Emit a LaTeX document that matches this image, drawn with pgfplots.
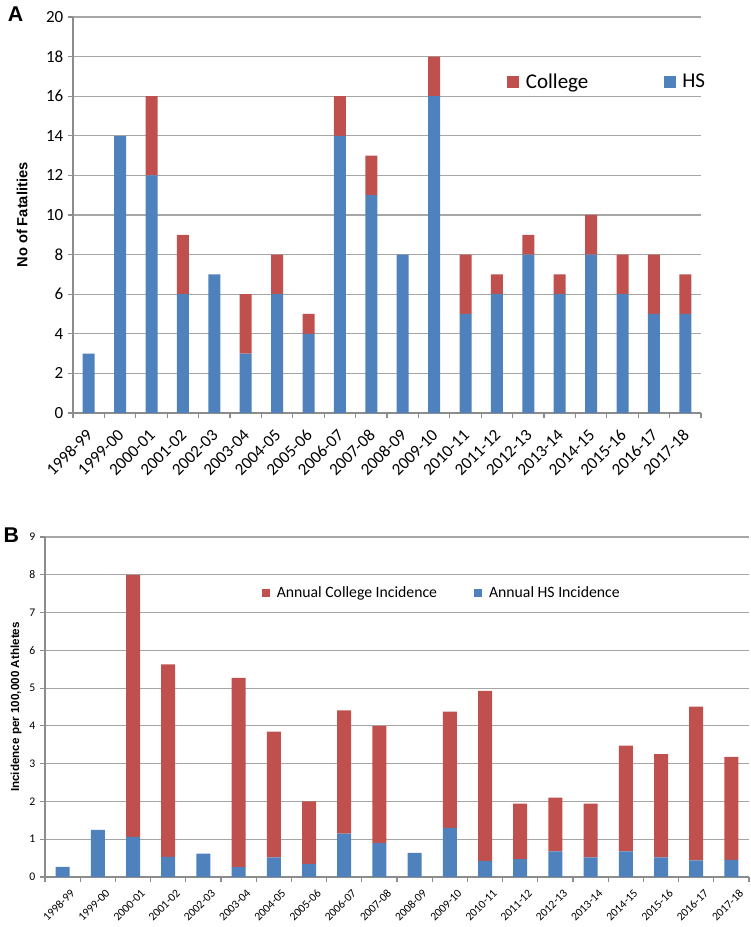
\documentclass[border=0pt]{standalone}
\usepackage{fontspec}
\setmainfont{Carlito}
\newfontfamily\arialfont{Liberation Sans}
\usepackage{pgfplots}
\pgfplotsset{compat=1.18}

\definecolor{hsblue}{HTML}{4F81BD}
\definecolor{colred}{HTML}{C0504D}
\definecolor{gridgray}{HTML}{A6A6A6}
\definecolor{axgray}{HTML}{8C8C8C}

\pgfplotsset{
  excelbars/.style={
    ybar stacked,
    scale only axis,
    axis lines=left,
    axis line style={-, axgray, line width=0.9pt},
    ymajorgrids,
    grid style={gridgray, line width=0.9pt},
    xmin=-0.5, xmax=19.5,
    xtick={0,...,19},
    xticklabels={1998-99,1999-00,2000-01,2001-02,2002-03,2003-04,2004-05,2005-06,2006-07,2007-08,
      2008-09,2009-10,2010-11,2011-12,2012-13,2013-14,2014-15,2015-16,2016-17,2017-18},
    minor xtick={-0.5,0.5,...,19.5},
    major x tick style={draw=none},
    minor x tick style={axgray, line width=0.9pt},
    y tick style={axgray, line width=0.9pt},
    tick align=outside,
    major tick length=3.75pt,
    minor tick length=3.75pt,
    xticklabel style={rotate=45, anchor=east},
    /pgf/number format/assume math mode=true,
    legend style={draw=none, fill=none, inner sep=0pt,
      /tikz/every odd column/.append style={column sep=3pt}},
    legend cell align=left,
    legend columns=2,
    reverse legend,
  },
  sqA/.style={legend image code/.code={\fill[##1] (0pt,-4.5pt) rectangle (9pt,4.5pt);}},
  sqB/.style={legend image code/.code={\fill[##1] (0pt,-3pt) rectangle (6pt,3pt);}},
}

\begin{document}
\begin{tikzpicture}
\useasboundingbox (0,0) rectangle (562.5pt,695.25pt);

% panel A: fatalities
\begin{axis}[excelbars,
  at={(54.75pt,385.5pt)}, anchor=south west,
  width=471pt, height=297pt,
  bar width=9pt,
  ymin=0, ymax=20, ytick={0,2,...,20},
  ticklabel style={font=\fontsize{12.75}{15}\selectfont},
  xticklabel style={xshift=-3.8pt, yshift=-8.1pt},
  ylabel={No of Fatalities},
  y label style={at={(axis description cs:-0.081,0.5)}, anchor=center,
    font=\arialfont\bfseries\fontsize{11}{13}\selectfont},
  legend style={at={(0.691,0.836)}, anchor=west,
    font=\fontsize{15.75}{18}\selectfont,
    /tikz/every even column/.append style={column sep=54.5pt}},
]
\addplot[fill=hsblue, draw=none, sqA] coordinates {
(0,3) (1,14) (2,12) (3,6) (4,7) (5,3) (6,6) (7,4) (8,14) (9,11)
(10,8) (11,16) (12,5) (13,6) (14,8) (15,6) (16,8) (17,6) (18,5) (19,5)
};
\addlegendentry{HS}
\addplot[fill=colred, draw=none, sqA] coordinates {
(0,0) (1,0) (2,4) (3,3) (4,0) (5,3) (6,2) (7,1) (8,2) (9,2)
(10,0) (11,2) (12,3) (13,1) (14,1) (15,1) (16,2) (17,2) (18,3) (19,2)
};
\addlegendentry{College}
\end{axis}

% panel B: incidence
\begin{axis}[excelbars,
  at={(33.75pt,37.5pt)}, anchor=south west,
  width=528pt, height=255pt,
  bar width=10.5pt,
  ymin=0, ymax=9, ytick={0,1,...,9},
  ticklabel style={font=\fontsize{8.75}{10}\selectfont},
  xticklabel style={xshift=3.8pt, yshift=-10.3pt},
  ylabel={Incidence per 100,000 Athletes},
  y label style={at={(axis description cs:-0.041,0.5)}, anchor=center,
    font=\arialfont\bfseries\fontsize{8.75}{10}\selectfont},
  legend style={at={(0.308,0.835)}, anchor=west,
    font=\fontsize{11.8}{14}\selectfont,
    /tikz/every even column/.append style={column sep=26pt}},
]
\addplot[fill=hsblue, draw=none, sqB] coordinates {
(0,0.27) (1,1.25) (2,1.06) (3,0.53) (4,0.62) (5,0.26) (6,0.52) (7,0.35) (8,1.15) (9,0.90)
(10,0.64) (11,1.30) (12,0.43) (13,0.47) (14,0.68) (15,0.52) (16,0.68) (17,0.52) (18,0.44) (19,0.45)
};
\addlegendentry{Annual HS Incidence}
\addplot[fill=colred, draw=none, sqB] coordinates {
(0,0) (1,0) (2,6.94) (3,5.10) (4,0) (5,5.01) (6,3.33) (7,1.65) (8,3.26) (9,3.10)
(10,0) (11,3.08) (12,4.50) (13,1.47) (14,1.42) (15,1.42) (16,2.80) (17,2.73) (18,4.07) (19,2.73)
};
\addlegendentry{Annual College Incidence}
\end{axis}

\node[font=\arialfont\bfseries\fontsize{16}{18}\selectfont] at (11.6pt,684.4pt) {A};
\node[font=\arialfont\bfseries\fontsize{16}{18}\selectfont] at (8.5pt,294pt) {B};
\end{tikzpicture}
\end{document}
